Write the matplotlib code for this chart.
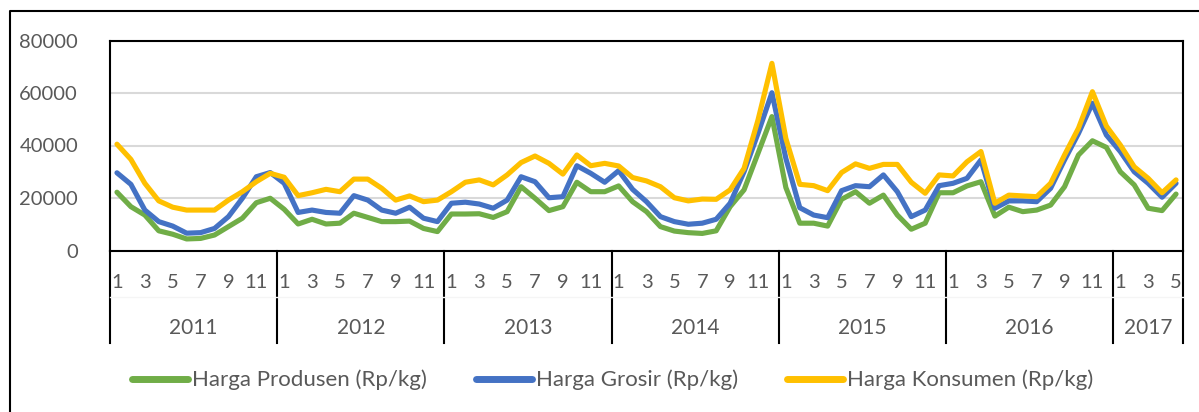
#!/usr/bin/env python
# -*- coding: utf-8 -*-
"""Harga produsen, grosir dan konsumen per bulan, 2011-2017."""

import matplotlib
matplotlib.use('Agg')
import matplotlib.pyplot as plt
from matplotlib.lines import Line2D
from matplotlib.transforms import blended_transform_factory


W, H, DPI = 1199, 412, 100

years = ['2011', '2012', '2013', '2014', '2015', '2016', '2017']
months_per_year = [12, 12, 12, 12, 12, 12, 5]

harga_produsen = [
    22200, 16700, 13500, 7500, 6200, 4400, 4600, 5900, 9100, 12300, 18200, 19900,
    15700, 10100, 11900, 10100, 10400, 14200, 12600, 11000, 11000, 11200, 8400, 7200,
    13900, 13900, 14000, 12600, 14800, 24300, 19900, 15200, 16700, 26000, 22400, 22400,
    24600, 18600, 14800, 9100, 7400, 6800, 6500, 7500, 16700, 23100, 37000, 51000,
    24000, 10400, 10400, 9300, 19500, 22400, 18000, 21100, 13500, 8100, 10400, 22000,
    22000, 24600, 26200, 13100, 16500, 14800, 15400, 17300, 24300, 36400, 41800, 39300,
    30000, 25000, 16100, 15200, 21500,
]
harga_grosir = [
    29600, 25200, 15400, 11000, 9300, 6600, 6800, 8400, 12900, 19900, 28100, 29700,
    25600, 14500, 15400, 14500, 14200, 20900, 19200, 15400, 14200, 16500, 12300, 11000,
    18000, 18400, 17700, 16100, 19200, 28100, 26200, 20100, 20500, 32300, 29400, 26000,
    30400, 23300, 18600, 12900, 11000, 10000, 10400, 11900, 18000, 30000, 44600, 60100,
    35100, 16300, 13500, 12500, 22800, 24700, 24300, 28800, 22400, 12900, 15400, 24700,
    25600, 27500, 34500, 16100, 18900, 18900, 18600, 23700, 34500, 44600, 56100, 44000,
    37700, 30000, 25600, 20300, 25600,
]
harga_konsumen = [
    40500, 34700, 25600, 18900, 16500, 15400, 15400, 15400, 19200, 22400, 26200, 29400,
    27900, 20900, 22000, 23300, 22400, 27200, 27200, 23700, 19200, 20800, 18600, 19200,
    22400, 26000, 26900, 25000, 28800, 33500, 36000, 33200, 29100, 36400, 32300, 33200,
    32200, 27800, 26500, 24300, 20100, 18900, 19600, 19500, 23100, 31300, 49700, 71300,
    42700, 25200, 24700, 22800, 29700, 33000, 31300, 32800, 32800, 26000, 21800, 28800,
    28400, 33800, 37700, 18000, 21100, 20800, 20500, 25600, 36400, 46600, 60500, 47400,
    40200, 31900, 27500, 22000, 26900,
]

series = [
    (harga_produsen, '#70AD47', u'Harga Produsen (Rp/kg)'),
    (harga_grosir, '#4472C4', u'Harga Grosir (Rp/kg)'),
    (harga_konsumen, '#FFC000', u'Harga Konsumen (Rp/kg)'),
]

TEXT_GRAY = '#595959'


def px(x, y):
  """Pixel position (top-left origin) to figure fraction."""
  return x / W, 1 - y / H


def main():
  plt.rcParams['font.family'] = ['Lato', 'DejaVu Sans']
  fig = plt.figure(figsize=(W / DPI, H / DPI), dpi=DPI)

  # Plot area in pixels.
  left, right, top, bottom = 110, 1183, 40.5, 250.5
  ax = fig.add_axes([left / W, 1 - bottom / H, (right - left) / W,
                     (bottom - top) / H])

  n = sum(months_per_year)
  xs = list(range(n))
  for ys, color, label in series:
    ax.plot(xs, ys, color=color, lw=3.7, solid_joinstyle='round',
            solid_capstyle='round', label=label, zorder=3)

  ax.set_xlim(-0.5, n - 0.5)
  ax.set_ylim(0, 80000)
  ax.set_yticks(range(0, 80001, 20000))
  ax.tick_params(axis='y', length=0, pad=23, labelsize=14.5,
                 labelcolor=TEXT_GRAY)
  ax.set_xticks([])
  ax.grid(axis='y', color='#D9D9D9', lw=1.5, zorder=0)
  for side in ax.spines.values():
    side.set_color('black')
    side.set_linewidth(1.5)

  # Two-level category axis (months / years).
  trans = blended_transform_factory(ax.transData, ax.transAxes)
  depth = (343 - bottom) / (bottom - top)
  month_y = -(283 - bottom) / (bottom - top)
  year_y = -(328 - bottom) / (bottom - top)
  start = 0
  bounds = [-0.5]
  for year, count in zip(years, months_per_year):
    for m in range(0, count, 2):
      ax.text(start + m, month_y, str(m + 1), transform=trans,
              ha='center', va='center', fontsize=14.5, color=TEXT_GRAY)
    ax.text(start + (count - 1) / 2.0, year_y, year, transform=trans,
            ha='center', va='center', fontsize=15, color=TEXT_GRAY)
    start += count
    bounds.append(start - 0.5)
  for b in bounds:
    ax.add_line(Line2D([b, b], [0, -depth], transform=trans, color='black',
                       lw=1.5, clip_on=False))
  ax.add_line(Line2D([-0.5, n - 0.5], [-(297 - bottom) / (bottom - top)] * 2,
                     transform=trans, color='#F5F5F5', lw=1, clip_on=False))

  # Outer chart border (left and top edges).
  fig.add_artist(Line2D(*zip(px(10, 412), px(10, 11), px(1199, 11)),
                        transform=fig.transFigure, color='black', lw=1.5))

  # Legend.
  leg = fig.legend(loc='center', bbox_to_anchor=px(613, 380), ncol=3,
                   frameon=False, fontsize=16, handlelength=2.5,
                   handletextpad=0.2, columnspacing=2.2, borderpad=0,
                   labelcolor=TEXT_GRAY)
  for line in leg.get_lines():
    line.set_linewidth(5)
    line.set_solid_capstyle('round')

  fig.savefig('out.png', dpi=DPI, facecolor='white')
  plt.close(fig)


if __name__ == '__main__':
  main()
